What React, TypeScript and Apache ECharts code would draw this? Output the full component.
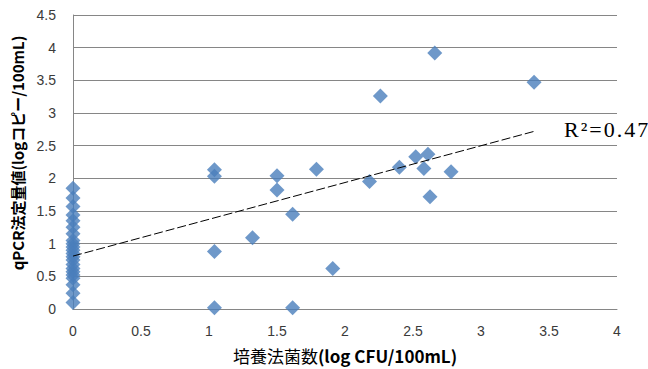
import React, { useEffect, useRef } from "react";
import * as echarts from "echarts";

const xTicks = [0, 0.5, 1, 1.5, 2, 2.5, 3, 3.5, 4];
const yTicks = [0, 0.5, 1, 1.5, 2, 2.5, 3, 3.5, 4, 4.5];

// points with culture count 0
const zeroX = [0, 0, 0, 0, 0, 0, 0, 0, 0, 0, 0, 0, 0, 0, 0, 0, 0, 0, 0, 0, 0, 0];
const zeroY = [1.85, 1.7, 1.57, 1.44, 1.35, 1.25, 1.15, 1.05, 1.0, 0.95, 0.9, 0.85, 0.8, 0.75, 0.68, 0.62, 0.57, 0.52, 0.47, 0.37, 0.24, 0.1];

// other points
const cultX = [1.04, 1.04, 1.04, 1.04, 1.32, 1.5, 1.5, 1.615, 1.615, 1.79, 1.91, 2.18, 2.26, 2.4, 2.52, 2.58, 2.61, 2.625, 2.66, 2.78, 3.39];
const qpcrY = [2.13, 2.03, 0.88, 0.02, 1.09, 2.04, 1.82, 1.45, 0.02, 2.14, 0.62, 1.95, 3.26, 2.17, 2.33, 2.15, 2.37, 1.72, 3.92, 2.1, 3.47];

// linear trendline (y = a + b x), R² = 0.47
const trendIntercept = 0.81;
const trendSlope = 0.563;
const trendXRange = [0, 3.39];
const r2Label = "R²=0.47";

export default function App() {
  const ref = useRef<HTMLDivElement>(null);
  useEffect(() => {
    if (!ref.current) return;
    const chart = echarts.init(ref.current, undefined, { renderer: "svg" });
    const points: number[][] = [];
    zeroX.forEach((x, i) => points.push([x, zeroY[i]]));
    cultX.forEach((x, i) => points.push([x, qpcrY[i]]));
    const trend = trendXRange.map((x) => [x, trendIntercept + trendSlope * x]);
    const tickFont = { fontFamily: "Liberation Sans", fontSize: 14, color: "#3a3a3a" };
    chart.setOption({
      animation: false,
      grid: { left: 73, right: 31, top: 15, bottom: 60, containLabel: false },
      xAxis: {
        type: "value",
        min: xTicks[0],
        max: xTicks[xTicks.length - 1],
        interval: 0.5,
        name: "{a|培養法菌数}{b|(log CFU/100mL)}",
        nameLocation: "middle",
        nameGap: 38,
        nameTextStyle: {
          rich: {
            a: { fontFamily: "Noto Sans CJK JP", fontSize: 17, color: "#000", fontWeight: "normal" },
            b: { fontFamily: "Noto Sans CJK JP", fontSize: 17, color: "#000", fontWeight: "bold" },
          },
        },
        axisLine: { show: true, lineStyle: { color: "#868686" } },
        axisTick: { show: false },
        splitLine: { show: false },
        axisLabel: { ...tickFont, margin: 15, formatter: (v: number) => String(v) },
      },
      yAxis: {
        type: "value",
        min: yTicks[0],
        max: yTicks[yTicks.length - 1],
        interval: 0.5,
        name: "qPCR法定量値(logコピー/100mL)",
        nameLocation: "middle",
        nameGap: 48,
        nameTextStyle: {
          fontFamily: "Noto Sans CJK JP",
          fontSize: 15,
          fontWeight: "bold",
          color: "#000",
          padding: [0, 0, 0, 18],
        },
        axisLine: { show: true, lineStyle: { color: "#868686" } },
        axisTick: { show: false },
        splitLine: { show: true, lineStyle: { color: "#868686", width: 1 } },
        axisLabel: { ...tickFont, margin: 17, formatter: (v: number) => String(v) },
      },
      series: [
        {
          type: "scatter",
          data: points,
          symbol: "diamond",
          symbolSize: 15,
          clip: false,
          itemStyle: { color: "#4A7EBB" },
          z: 3,
        },
        {
          type: "line",
          data: trend,
          symbol: "none",
          lineStyle: { color: "#000", width: 1, type: [9, 3] },
          z: 4,
        },
      ],
    });
    // R² label placed next to the end of the trendline, via the chart's own scales
    const end = trend[trend.length - 1];
    const px = chart.convertToPixel({ gridIndex: 0 }, end) as number[];
    chart.setOption({
      graphic: [
        {
          type: "text",
          x: px[0] + 29,
          y: px[1] - 2,
          style: {
            text: Array.from(r2Label).map((ch) => "{c|" + ch + "}").join(""),
            rich: {
              c: {
                fontFamily: "Liberation Serif",
                fontSize: 22,
                fill: "#000",
                padding: [0, 1, 0, 1],
              },
            },
            verticalAlign: "middle",
            align: "left",
          },
          z: 10,
        },
      ],
    });
    return () => chart.dispose();
  }, []);
  return <div ref={ref} style={{ position: "absolute", left: 0, top: 0, width: 648, height: 369 }} />;
}
